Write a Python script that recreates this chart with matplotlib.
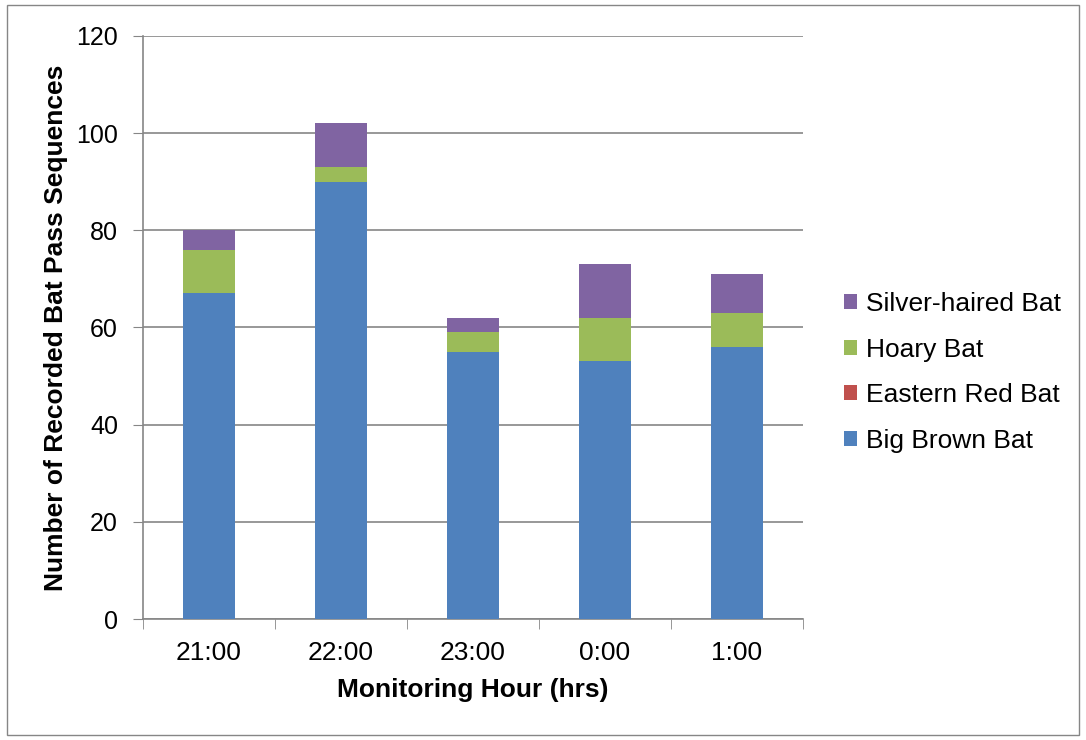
import numpy as np
import matplotlib.pyplot as plt
from matplotlib.patches import Rectangle

plt.rcParams['font.family'] = ['Liberation Sans', 'DejaVu Sans']

hours = ["21:00", "22:00", "23:00", "0:00", "1:00"]
big_brown = [67, 90, 55, 53, 56]
eastern_red = [0, 0, 0, 0, 0]
hoary = [9, 3, 4, 9, 7]
silver_haired = [4, 9, 3, 11, 8]

series = [("Big Brown Bat", big_brown, "#4F81BD"),
          ("Eastern Red Bat", eastern_red, "#C0504D"),
          ("Hoary Bat", hoary, "#9BBB59"),
          ("Silver-haired Bat", silver_haired, "#8064A2")]

fig = plt.figure(figsize=(10.86, 7.4), dpi=100)
ax = fig.add_axes([0.1317, 0.1635, 0.6077, 0.7879])

x = np.arange(len(hours))
bottom = np.zeros(len(hours))
handles = []
for name, vals, col in series:
    b = ax.bar(x, vals, 0.4, bottom=bottom, color=col, label=name, zorder=3)
    bottom += np.array(vals)
    handles.append(b)

ax.set_ylim(0, 120)
ax.set_yticks(range(0, 121, 20))
ax.set_xlim(-0.5, len(hours) - 0.5)
ax.set_xticks(x)
ax.set_xticklabels(hours)
ax.set_xticks(np.arange(-0.5, len(hours)), minor=True)
ax.tick_params(axis='x', which='major', length=0, labelsize=19, pad=15.5)
ax.tick_params(axis='x', which='minor', length=7, color='#868686', direction='out')
ax.tick_params(axis='y', length=7, color='#868686', labelsize=18, pad=11)
ax.grid(axis='y', color='#868686', linewidth=1.2, zorder=0)
for s in ['top', 'right']:
    ax.spines[s].set_visible(False)
for s in ['left', 'bottom']:
    ax.spines[s].set_color('#868686')
    ax.spines[s].set_linewidth(1.2)

ax.set_xlabel("Monitoring Hour (hrs)", fontsize=19, fontweight='bold', labelpad=10)
ax.set_ylabel("Number of Recorded Bat Pass Sequences", fontsize=19, fontweight='bold', labelpad=6)

fig.legend(handles[::-1], [s[0] for s in series][::-1], loc='upper left',
           bbox_to_anchor=(844 / 1086, 1 - 292 / 740), frameon=False, fontsize=19,
           borderpad=0, borderaxespad=0,
           handlelength=0.5, handleheight=0.5, handletextpad=0.33, labelspacing=0.82)

fig.patches.append(Rectangle((0.006, 0.007), 0.988, 0.986, transform=fig.transFigure,
                             fill=False, edgecolor='#868686', linewidth=1))

fig.savefig("out.png", dpi=100)
